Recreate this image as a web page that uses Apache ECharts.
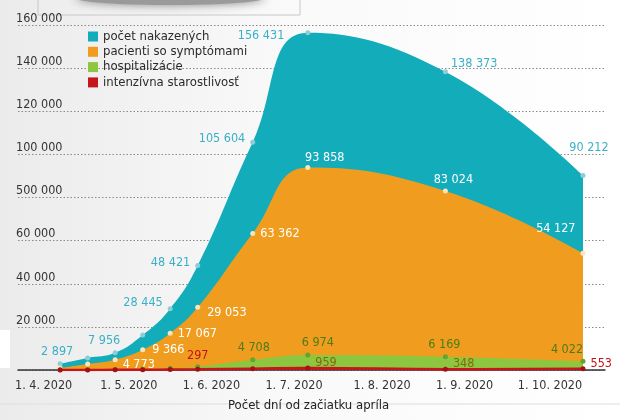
<!DOCTYPE html>
<html>
<head>
<meta charset="utf-8">
<script src="https://cdn.jsdelivr.net/npm/echarts@6/dist/echarts.min.js"></script>
<style>
html,body{margin:0;padding:0;}
#chart{width:620px;height:420px;}
</style>
</head>
<body>
<div id="chart"></div>
<script>
// ---- data ----
const days = [10, 20, 30, 40, 50, 60, 80, 100, 150, 200];
const infected = [2897, 5600, 7956, 16200, 28445, 48421, 105604, 156431, 138373, 90212];
const symptomatic = [900, 2800, 4773, 9366, 17067, 29053, 63362, 93858, 83024, 54127];
const hospitalized = [80, 150, 250, 450, 800, 1500, 4708, 6974, 6169, 4022];
const intensive = [20, 40, 60, 110, 190, 297, 620, 959, 348, 553];
const seriesNames = ['počet nakazených', 'pacienti so symptómami', 'hospitalizácie', 'intenzívna starostlivosť'];
const monthLabels = ['1. 4. 2020', '1. 5. 2020', '1. 6. 2020', '1. 7. 2020', '1. 8. 2020', '1. 9. 2020', '1. 10. 2020'];
const monthTickDays = [4, 35, 65, 95, 127, 157, 188];
const yTickValues = [20000, 40000, 60000, 80000, 100000, 120000, 140000, 160000];
const yTickLabels = ['20 000', '40 000', '60 000', '500 000', '100 000', '120 000', '140 000', '160 000'];
const xAxisTitle = 'Počet dní od začiatku apríla';

// ---- font selection: try to get a condensed face ----
const mctx = document.createElement('canvas').getContext('2d');
const SAMPLE = '160 000';
function widthOf(font) { mctx.font = font; return mctx.measureText(SAMPLE + ' abcdefgh').width; }
function fontAvailable(name) {
  return widthOf("20px '" + name + "', monospace") !== widthOf('20px monospace') ||
         widthOf("20px '" + name + "', serif") !== widthOf('20px serif');
}
let FONT_NAME = null, STRETCH = '';
for (const fam of ['DejaVu Sans Condensed', 'Liberation Sans Narrow', 'Roboto Condensed', 'Open Sans Condensed']) {
  if (fontAvailable(fam)) { FONT_NAME = fam; break; }
}
if (!FONT_NAME) {
  for (const fam of ['Noto Sans', 'Open Sans', 'Roboto', 'DejaVu Sans', 'Inter']) {
    if (!fontAvailable(fam)) continue;
    const normal = widthOf("20px '" + fam + "'");
    mctx.font = "condensed 20px '" + fam + "'";
    const ok = /condensed/.test(mctx.font);
    const cond = mctx.measureText(SAMPLE + ' abcdefgh').width;
    if (ok && cond < normal * 0.93) { FONT_NAME = fam; STRETCH = 'condensed'; break; }
  }
}
if (!FONT_NAME) FONT_NAME = fontAvailable('Roboto') ? 'Roboto' : 'sans-serif';
const FONT = "'" + FONT_NAME + "', sans-serif";
mctx.font = (STRETCH ? STRETCH + ' ' : '') + '14px ' + FONT;
let FS = 14 * 41 / mctx.measureText(SAMPLE).width;
FS = Math.max(12.5, Math.min(14.5, FS));
const FSTYLE = STRETCH || 'normal';

// ---- styling ----
const colors = ['#12acbb', '#f09d1f', '#8dc63f', '#c5161d'];
const dotColors = ['#8fcdd6', '#fde4bd', '#5fa52e', '#a80f15'];
const fmt = v => String(v).replace(/\B(?=(\d{3})+(?!\d))/g, ' ');
const txt = (extra) => Object.assign({ fontFamily: FONT, fontSize: FS, fontStyle: FSTYLE }, extra);

// label placement per series: index -> [position, offsetX, offsetY, color]
const labelPlacement = [
  {0: ['top', -3, 2], 2: ['top', -11, 2], 4: ['left', 0, -6], 5: ['left', 0, -3], 6: ['left', 0, -4], 7: ['left', -16, 3], 8: ['right', -2, -8], 9: ['top', 6, -14]},
  {2: ['right', 0, 5], 3: ['right', 2, 0], 4: ['right', 0, 1], 5: ['right', 2, 5], 6: ['right', 0, 0], 7: ['top', 17, 4], 8: ['top', 8, 3], 9: ['left', 0, -25]},
  {6: ['top', 1, 2], 7: ['top', 10, 2], 8: ['top', -1, 2], 9: ['top', -16, 2]},
  {5: ['top', 0, 0, '#c0131b'], 7: ['right', 0, -5, '#84690f'], 8: ['right', 0, -5, '#84690f'], 9: ['right', 0, -5, '#c0131b']}
];
const labelColors = ['#3ab0c6', '#ffffff', '#4a7d16', '#c0131b'];
const valueSets = [infected, symptomatic, hospitalized, intensive];

function buildData(si) {
  return days.map((d, i) => {
    const p = labelPlacement[si][i];
    const item = { value: [d, valueSets[si][i]] };
    if (p) {
      item.label = txt({
        show: true, position: p[0], offset: [p[1], p[2]],
        color: p[3] || labelColors[si],
        formatter: prm => fmt(prm.value[1])
      });
    }
    return item;
  });
}

const chart = echarts.init(document.getElementById('chart'), null, { renderer: 'canvas' });
const option = {
  animation: false,
  backgroundColor: {
    type: 'linear', x: 0, y: 0, x2: 1, y2: 0,
    colorStops: [{ offset: 0, color: '#ebebeb' }, { offset: 0.45, color: '#f9f9f9' }, { offset: 1, color: '#ffffff' }]
  },
  textStyle: { fontFamily: FONT },
  grid: { left: 18, right: 15, top: 25, bottom: 50 },
  legend: {
    orient: 'vertical', left: 83, top: 24, itemWidth: 10, itemHeight: 10, itemGap: 0.3, icon: 'rect',
    textStyle: txt({ fontSize: FS + 0.5, color: '#2a2a2a', lineHeight: 15 }),
    data: seriesNames.map((n, i) => ({ name: n, itemStyle: { color: colors[i] } }))
  },
  xAxis: {
    type: 'value', min: -5.3, max: 208,
    splitLine: { show: false },
    axisLine: { show: true, lineStyle: { color: '#333', width: 1.5 } },
    axisTick: { show: false },
    axisLabel: txt({
      customValues: monthTickDays,
      color: '#333', margin: 9,
      formatter: v => { const i = monthTickDays.indexOf(v); return i >= 0 ? monthLabels[i] : ''; }
    })
  },
  yAxis: {
    type: 'value', min: 0, max: 160000, interval: 20000,
    axisLine: { show: false }, axisTick: { show: false },
    splitLine: { show: true, lineStyle: { color: '#8a8a8a', type: [1.5, 2], width: 1 } },
    axisLabel: txt({
      inside: true, margin: -2, verticalAlign: 'bottom', color: '#333',
      formatter: v => { const i = yTickValues.indexOf(v); return i >= 0 ? yTickLabels[i] : ''; }
    })
  },
  series: seriesNames.map((name, si) => ({
    name, type: 'line', smooth: 0.45, z: 2 + si,
    data: buildData(si),
    symbol: 'circle', symbolSize: 5, showAllSymbol: true,
    color: colors[si],
    itemStyle: { color: dotColors[si] },
    lineStyle: { width: si === 3 ? 2.5 : 0, color: colors[si] },
    areaStyle: { color: colors[si], opacity: 1 },
    emphasis: { disabled: true }
  })),
  graphic: [
    { type: 'rect', left: 0, top: 330, shape: { width: 10, height: 38 }, style: { fill: '#ffffff' }, z: -1 },
    { type: 'line', shape: { x1: 0, y1: 404, x2: 620, y2: 404 }, style: { stroke: '#dddddd', lineWidth: 1 } },
    { type: 'rect', shape: { x: 38, y: -2, width: 262, height: 17 }, style: { fill: 'none', stroke: '#c8c8c8', lineWidth: 1 } },
    { type: 'ellipse', shape: { cx: 170, cy: -2, rx: 95, ry: 7 }, style: { fill: '#9a9a9a', shadowBlur: 10, shadowColor: '#888' } },
    { type: 'text', left: 228, top: 399, style: { text: xAxisTitle, font: FSTYLE + ' normal 13px ' + FONT, fill: '#222' } }
  ]
};
chart.setOption(option);
</script>
</body>
</html>
